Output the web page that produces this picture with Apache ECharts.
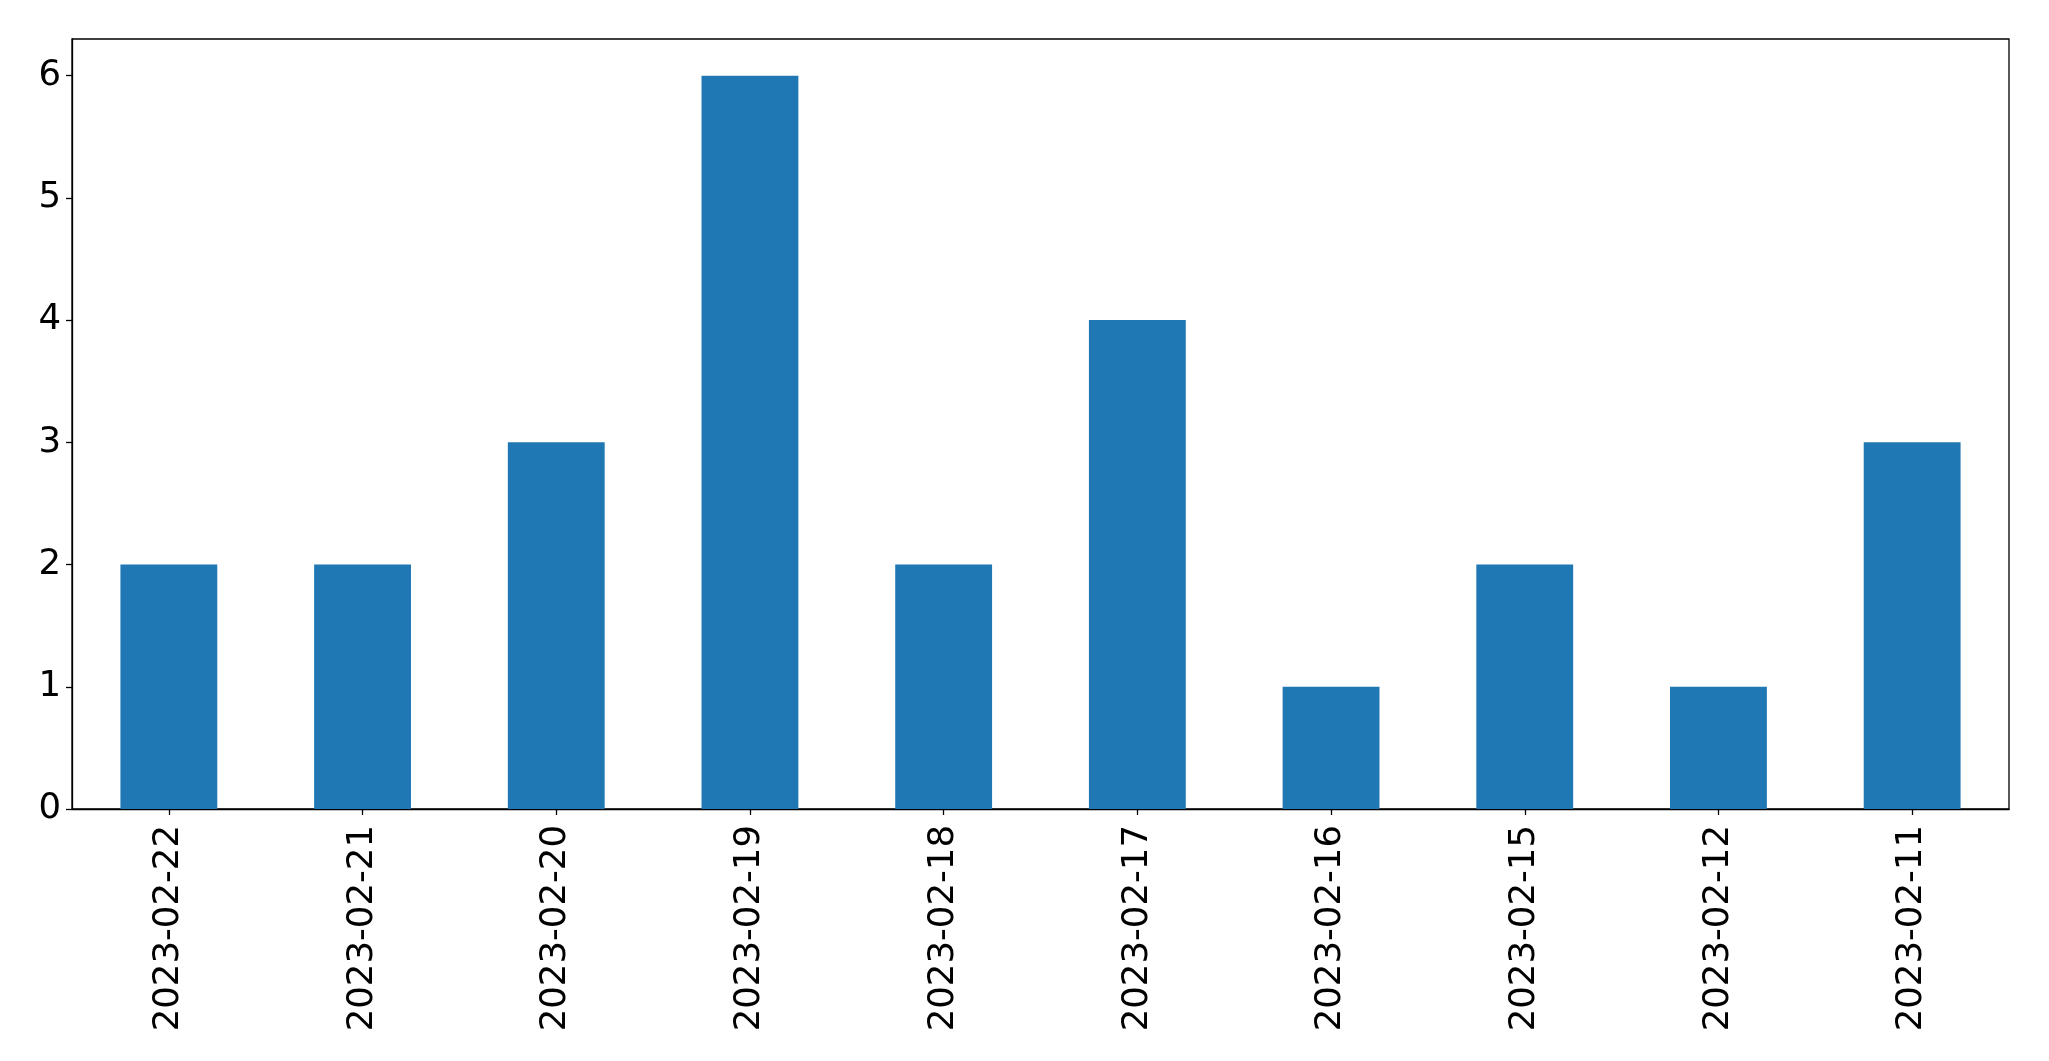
<!DOCTYPE html>
<html>
<head>
<meta charset="utf-8">
<script src="https://cdn.jsdelivr.net/npm/echarts@6/dist/echarts.min.js"></script>
<style>html,body{margin:0;padding:0;background:#fff;}#c{width:2049px;height:1061px;}</style>
</head>
<body>
<div id="c"></div>
<script>
const categories = ['2023-02-22','2023-02-21','2023-02-20','2023-02-19','2023-02-18','2023-02-17','2023-02-16','2023-02-15','2023-02-12','2023-02-11'];
const counts = [2, 2, 3, 6, 2, 4, 1, 2, 1, 3];
const yTicks = [0, 1, 2, 3, 4, 5, 6];

const chart = echarts.init(document.getElementById('c'), null, {renderer: 'canvas'});
const font = 'DejaVu Sans';
chart.setOption({
  animation: false,
  backgroundColor: '#ffffff',
  grid: {left: 72, right: 40, top: 39, bottom: 252, show: true, borderColor: '#000', borderWidth: 1.3, backgroundColor: 'transparent'},
  xAxis: {
    type: 'category',
    data: categories,
    axisLine: {show: true, lineStyle: {color: '#000', width: 1.3}},
    axisTick: {show: true, alignWithLabel: true, length: 6, lineStyle: {color: '#000', width: 1.3}},
    axisLabel: {rotate: 90, color: '#000', fontFamily: font, fontSize: 35.5, margin: 16},
    splitLine: {show: false}
  },
  yAxis: {
    type: 'value',
    min: 0,
    max: 6.3,
    interval: 1,
    axisLine: {show: true, lineStyle: {color: '#000', width: 1.3}},
    axisTick: {show: true, length: 6, lineStyle: {color: '#000', width: 1.3}, customValues: yTicks},
    axisLabel: {color: '#000', fontFamily: font, fontSize: 35.5, margin: 11, customValues: yTicks},
    splitLine: {show: false}
  },
  series: [{
    type: 'bar',
    data: counts,
    barWidth: '50%',
    itemStyle: {color: '#1f77b4'}
  }]
});
</script>
</body>
</html>
